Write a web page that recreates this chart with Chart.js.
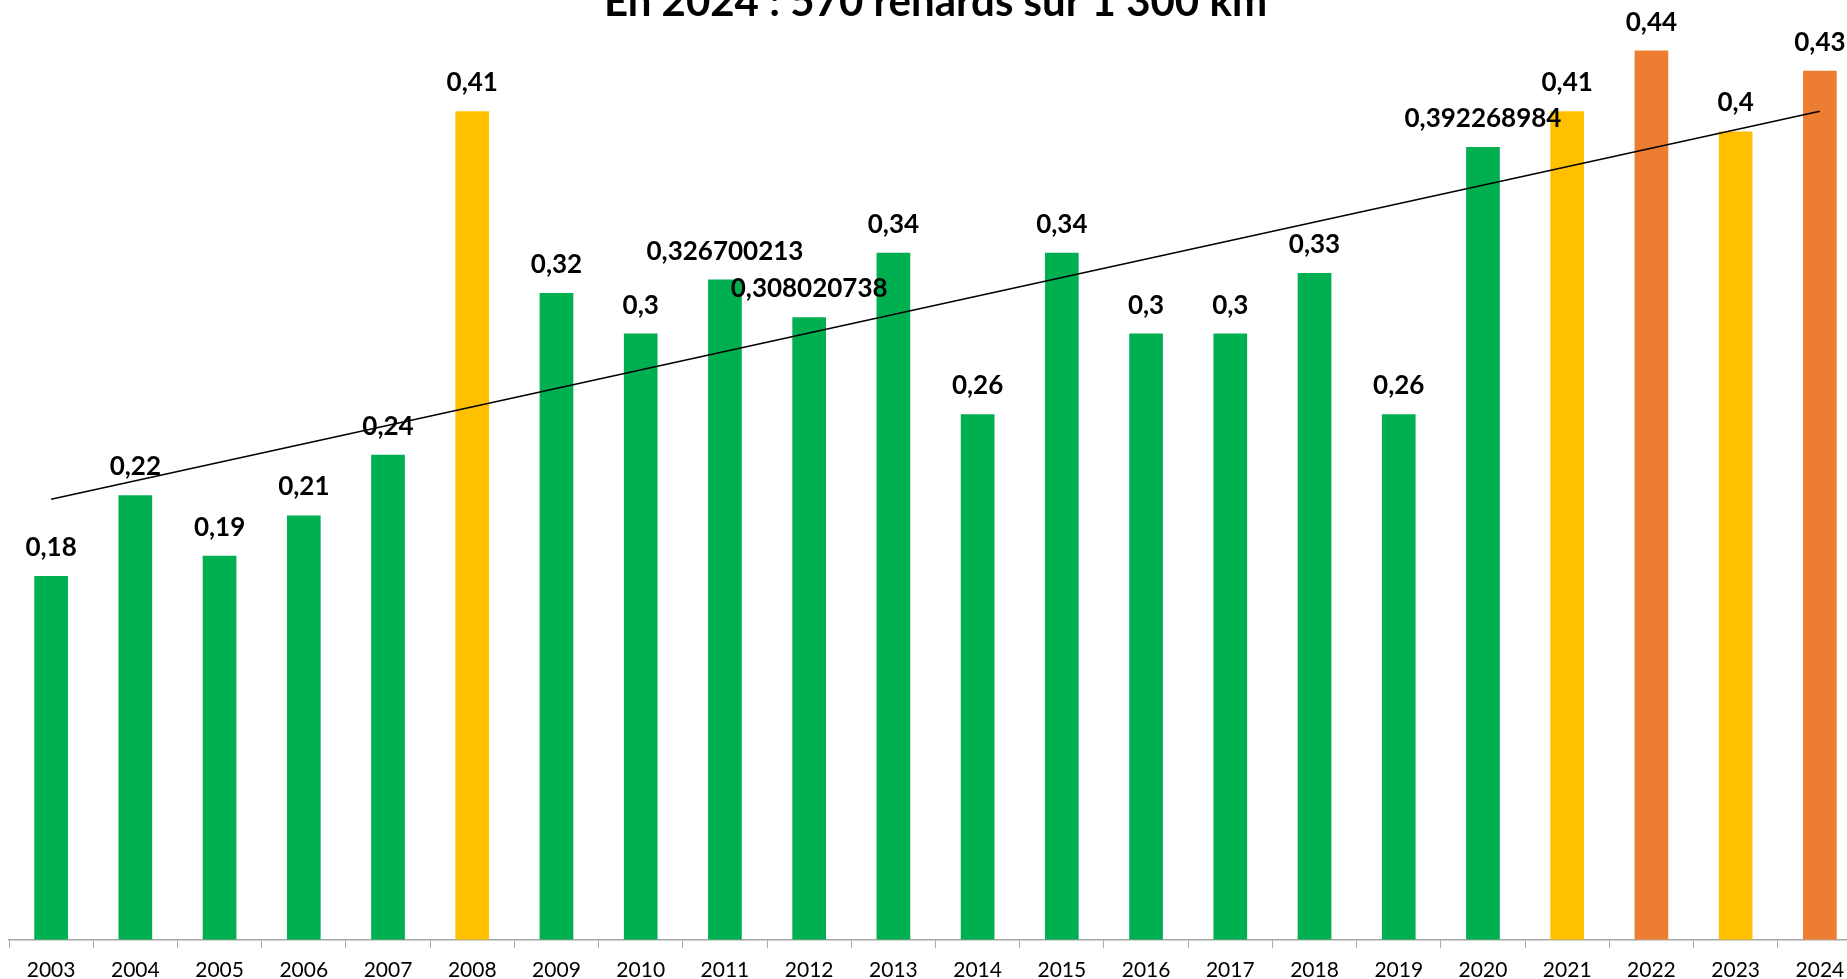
<!DOCTYPE html>
<html lang="fr">
<head>
<meta charset="utf-8">
<title>Renards</title>
<script src="https://cdn.jsdelivr.net/npm/chart.js@4/dist/chart.umd.min.js"></script>
<style>
    html, body { margin: 0; padding: 0; background: #fff; overflow: hidden; }
    #wrap { position: absolute; left: 0; top: -33px; width: 1880px; height: 1026px; }
</style>
</head>
<body>
<div id="wrap"><canvas id="chart"></canvas></div>
<script>
// Years and values (renards / km)
const years = ['2003', '2004', '2005', '2006', '2007', '2008', '2009', '2010', '2011', '2012', '2013',
               '2014', '2015', '2016', '2017', '2018', '2019', '2020', '2021', '2022', '2023', '2024'];
const values = [0.18, 0.22, 0.19, 0.21, 0.24, 0.41, 0.32, 0.3, 0.326700213, 0.308020738, 0.34,
                0.26, 0.34, 0.3, 0.3, 0.33, 0.26, 0.392268984, 0.41, 0.44, 0.4, 0.43];
// Trend line, read at first and last year
const trendEnds = [0.218, 0.410];

const GREEN = '#00B050', YELLOW = '#FFC000', ORANGE = '#ED7D31';
const barColors = [GREEN, GREEN, GREEN, GREEN, GREEN, YELLOW, GREEN, GREEN, GREEN, GREEN, GREEN,
                   GREEN, GREEN, GREEN, GREEN, GREEN, GREEN, GREEN, YELLOW, ORANGE, YELLOW, ORANGE];

// trend series: only the two ends, the line spans the gap
const trendData = years.map((y, i) => i === 0 ? trendEnds[0] : (i === years.length - 1 ? trendEnds[1] : null));

// Draw value labels above each bar
const valueLabels = {
    id: 'valueLabels',
    afterDatasetsDraw(chart) {
        const ctx = chart.ctx;
        const meta = chart.getDatasetMeta(1); // bar dataset
        ctx.save();
        ctx.font = 'bold 26px Lato';
        ctx.fillStyle = '#000';
        ctx.textAlign = 'center';
        ctx.textBaseline = 'alphabetic';
        meta.data.forEach((bar, i) => {
            const txt = String(values[i]).replace('.', ',');
            ctx.fillText(txt, bar.x, bar.y - 20);
        });
        ctx.restore();
    }
};

new Chart(document.getElementById('chart'), {
    type: 'bar',
    data: {
        labels: years,
        datasets: [{
            type: 'line',
            data: trendData,
            spanGaps: true,
            borderColor: '#000',
            borderWidth: 1.5,
            pointRadius: 0,
            order: 0
        }, {
            data: values,
            backgroundColor: barColors,
            barPercentage: 0.4,
            categoryPercentage: 1,
            order: 1
        }]
    },
    options: {
        responsive: true,
        maintainAspectRatio: false,
        animation: false,
        layout: { padding: { left: 9, right: 18, top: 0, bottom: 0 } },
        plugins: {
            legend: { display: false },
            tooltip: { enabled: false },
            title: {
                display: true,
                text: 'En 2024 : 570 renards sur 1 300 km',
                color: '#000',
                font: { family: 'Lato', size: 42, weight: 'bold', lineHeight: 1.2 },
                padding: { top: 10, bottom: 3 }
            }
        },
        scales: {
            x: {
                grid: { display: true, drawOnChartArea: false, drawTicks: true, tickLength: 8, color: '#A6A6A6', offset: true },
                border: { color: '#A6A6A6', width: 1.5 },
                ticks: { color: '#000', font: { family: 'Lato', size: 21 }, padding: 10, maxRotation: 0, autoSkip: false }
            },
            y: {
                display: false,
                min: 0,
                max: 0.45
            }
        }
    },
    plugins: [valueLabels]
});
</script>
</body>
</html>
